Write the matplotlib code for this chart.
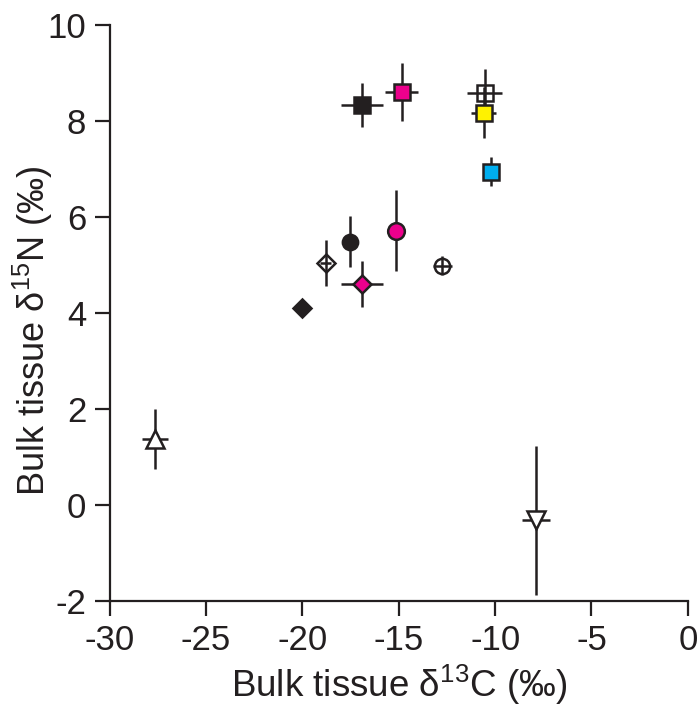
import numpy as np
import matplotlib
matplotlib.use('Agg')
import matplotlib.pyplot as plt

plt.rcParams['font.family'] = ['Liberation Sans', 'DejaVu Sans']
plt.rcParams['mathtext.default'] = 'regular'
plt.rcParams['axes.unicode_minus'] = False

# Values: d13C, d15N, and their errors
labels = ['black_sq', 'magenta_sq', 'open_sq', 'yellow_sq', 'cyan_sq',
          'black_circ', 'magenta_circ', 'open_dia', 'magenta_dia', 'open_circ',
          'black_dia', 'up_tri', 'down_tri']
d13c = [-16.9, -14.85, -10.55, -10.6, -10.2, -17.55, -15.15, -18.8, -16.9, -12.75,
        -20.0, -27.65, -7.9]
d15n = [8.32, 8.6, 8.58, 8.17, 6.94, 5.48, 5.71, 5.04, 4.6, 4.98, 4.1, 1.37, -0.32]
xerr = [1.1, 0.85, 0.9, 0.65, 0.2, 0.0, 0.0, 0.3, 1.1, 0.5, 0.0, 0.67, 0.73]
yerr = [0.46, 0.6, 0.5, 0.54, 0.3, 0.53, 0.84, 0.48, 0.48, 0.2, 0.0, 0.62, 1.55]

dark = '#231f20'
styles = {
    'black_sq': dict(marker='s', mfc=dark, ms=11),
    'magenta_sq': dict(marker='s', mfc='#ec008c', ms=12),
    'open_sq': dict(marker='s', mfc='none', ms=11),
    'yellow_sq': dict(marker='s', mfc='#fff200', ms=12),
    'cyan_sq': dict(marker='s', mfc='#00aeef', ms=12),
    'black_circ': dict(marker='o', mfc=dark, ms=11),
    'magenta_circ': dict(marker='o', mfc='#ec008c', ms=12),
    'open_dia': dict(marker='D', mfc='none', ms=9),
    'magenta_dia': dict(marker='D', mfc='#ec008c', ms=9),
    'open_circ': dict(marker='o', mfc='none', ms=11),
    'black_dia': dict(marker='D', mfc=dark, ms=9),
    'up_tri': dict(marker='^', mfc='white', ms=13),
    'down_tri': dict(marker='v', mfc='white', ms=13),
}

fig = plt.figure(figsize=(6.99, 7.06), dpi=100)
ax = fig.add_axes([0.157, 0.149, 0.827, 0.816])

for name, x, y, xe, ye in zip(labels, d13c, d15n, xerr, yerr):
    ax.errorbar(x, y, xerr=xe if xe > 0 else None, yerr=ye if ye > 0 else None,
                fmt='none', ecolor=dark, elinewidth=1.8, capsize=0, zorder=2)
    ax.plot(x, y, ls='none', mec=dark, mew=1.8, zorder=3, **styles[name])

ax.set_xlim(-30, 0)
ax.set_ylim(-2, 10)
ax.set_xticks(np.arange(-30, 1, 5))
ax.set_yticks(np.arange(-2, 11, 2))
ax.spines['top'].set_visible(False)
ax.spines['right'].set_visible(False)
for s in ('left', 'bottom'):
    ax.spines[s].set_linewidth(1.6)
    ax.spines[s].set_color(dark)
ax.tick_params(direction='out', length=11, width=1.6, color=dark,
               labelsize=25, pad=6, labelcolor=dark)

ax.set_xlabel('Bulk tissue δ$^{13}$C (‰)', fontsize=26.5, color=dark, labelpad=4)
ax.set_ylabel('Bulk tissue δ$^{15}$N (‰)', fontsize=26, color=dark)
ax.yaxis.set_label_coords(-0.095, 0.468)

fig.savefig('out.png', dpi=100)
